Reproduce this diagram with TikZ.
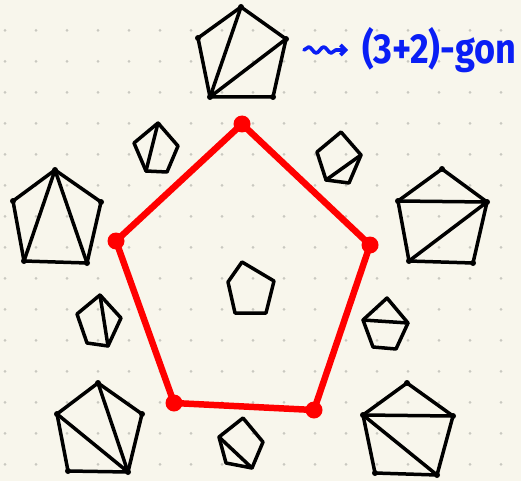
\documentclass[tikz,border=0pt]{standalone}
\usepackage{fontspec}
\newfontfamily\handfont{Fira Sans}
\usetikzlibrary{arrows.meta,decorations.pathmorphing}
\definecolor{paper}{HTML}{F8F6EC}
\definecolor{griddot}{HTML}{C9C8C0}
\definecolor{penblue}{HTML}{0A1EF5}
\definecolor{penred}{HTML}{FF0000}
\tikzset{
  pen/.style={line width=3.5pt,line cap=round,line join=round},
  redline/.style={penred,line width=6.5pt,line cap=round,line join=round},
  reddot/.style={circle,fill=penred,inner sep=0pt,minimum size=17pt},
  squig/.style={penblue,line width=3.6pt,line cap=round,line join=round,
    decorate,decoration={snake,amplitude=3pt,segment length=15pt,post length=7pt},
    -{Straight Barb[length=5pt,width=10pt]}},
}
% pentagon: name, top, left, right, bottom left, bottom right
\newcommand{\pgon}[6]{%
  \coordinate (#1-t) at (#2);
  \coordinate (#1-l) at (#3);
  \coordinate (#1-r) at (#4);
  \coordinate (#1-bl) at (#5);
  \coordinate (#1-br) at (#6);
  \draw[pen] (#1-t) -- (#1-r) -- (#1-br) -- (#1-bl) -- (#1-l) -- cycle;}
\begin{document}
\begin{tikzpicture}[x=1pt,y=-1pt]
\fill[paper] (0,0) rectangle (521,481);
\useasboundingbox (0,0) rectangle (521,481);
\foreach \i in {0,...,16}
  \foreach \j in {1,...,15}
    \fill[griddot] (5+31*\i,-0.7+31*\j) circle (1.5);
% red pentagon
\node[reddot] (a) at (242,124) {};
\node[reddot] (b) at (370,245) {};
\node[reddot] (c) at (314,410) {};
\node[reddot] (d) at (174,403) {};
\node[reddot] (e) at (116,241) {};
\draw[redline] (a.center) -- (b.center) -- (c.center) -- (d.center) -- (e.center) -- cycle;
% small pentagons
\pgon{T}{241,7}{198,38}{286,39}{210,97}{273,97}
\draw[pen] (T-bl) -- (T-t) (T-bl) -- (T-r);
\pgon{UL}{158,123}{134,143}{178,146}{146,171}{167,172}
\draw[pen] (UL-t) -- (UL-bl);
\pgon{L}{55,170}{13,201}{101,202}{24,261}{87,263}
\draw[pen] (L-t) -- (L-bl) (L-t) -- (L-br);
\pgon{UR}{341,132}{317,152}{361,155}{326,180}{349,183}
\draw[pen] (UR-r) -- (UR-bl);
\pgon{R}{442,169}{398,201}{487,202}{409,261}{473,263}
\draw[pen] (R-l) -- (R-r) (R-bl) -- (R-r);
\pgon{LL}{100,295}{77,314}{121,318}{87,343}{108,346}
\draw[pen] (LL-t) -- (LL-br);
\pgon{BL}{98,383}{57,414}{142,414}{68,471}{128,472}
\draw[pen] (BL-l) -- (BL-br) (BL-t) -- (BL-br);
\pgon{B}{243,418}{219,437}{263,442}{226,463}{252,468}
\draw[pen] (B-l) -- (B-br);
\pgon{LR}{387,298}{363,320}{408,323}{373,347}{396,349}
\draw[pen] (LR-l) -- (LR-r);
\pgon{BR}{407,383}{363,415}{453,416}{375,473}{437,475}
\draw[pen] (BR-l) -- (BR-r) (BR-l) -- (BR-br);
\pgon{C}{242,262}{228,282}{274,281}{235,313}{266,313}
\foreach \p in {T,L,R,BL,BR}
  \foreach \v in {t,l,r,bl,br}
    \fill (\p-\v) circle (3);
% label
\coordinate (sq) at (304,50);
\coordinate (sqend) at (348,50);
\draw[squig] (sq) -- (sqend);
\node[font=\handfont\bfseries\fontsize{42}{42}\selectfont,text=penblue,anchor=base west,inner sep=0pt,xscale=0.86,transform shape] (lbl) at (362,64) {(3+2)-gon};
\end{tikzpicture}
\end{document}
